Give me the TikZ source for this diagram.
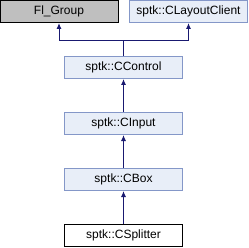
\documentclass[tikz,border=0pt]{standalone}
\usepackage{fontspec}
\setmainfont{Liberation Sans}
\usetikzlibrary{arrows.meta}
\definecolor{edgeblue}{HTML}{191970}
\definecolor{boxfill}{HTML}{E8EEF8}
\definecolor{boxline}{HTML}{8497C8}
\definecolor{grayfill}{HTML}{BFBFBF}
\tikzset{
  cls/.style={draw=boxline,fill=boxfill,line width=1pt,minimum width=118pt,minimum height=22pt,inner sep=0pt,font=\fontsize{12}{14}\selectfont},
  extcls/.style={cls,draw=black,fill=grayfill},
  curcls/.style={cls,draw=black,fill=white},
  inh/.style={draw=edgeblue,line width=1pt,-{Latex[length=6pt,width=5pt]}}
}
\begin{document}
\begin{tikzpicture}[x=1pt,y=-1pt]
\useasboundingbox (0,0) rectangle (248,248);
\node[extcls] (flgroup) at (59,11.5) {Fl\_Group};
\node[cls] (layout) at (188.5,11.5) {sptk::CLayoutClient};
\node[cls] (control) at (123.5,67.5) {sptk::CControl};
\node[cls] (input) at (123.5,123.5) {sptk::CInput};
\node[cls] (box) at (123.5,179.5) {sptk::CBox};
\node[curcls] (splitter) at (123.5,235.5) {sptk::CSplitter};
% inheritance
\draw[inh] (control.north) -- ++(0,-15) -| (flgroup.south);
\draw[inh] (control.north) -- ++(0,-15) -| (layout.south);
\draw[inh] (input.north) -- (control.south);
\draw[inh] (box.north) -- (input.south);
\draw[inh] (splitter.north) -- (box.south);
\end{tikzpicture}
\end{document}
